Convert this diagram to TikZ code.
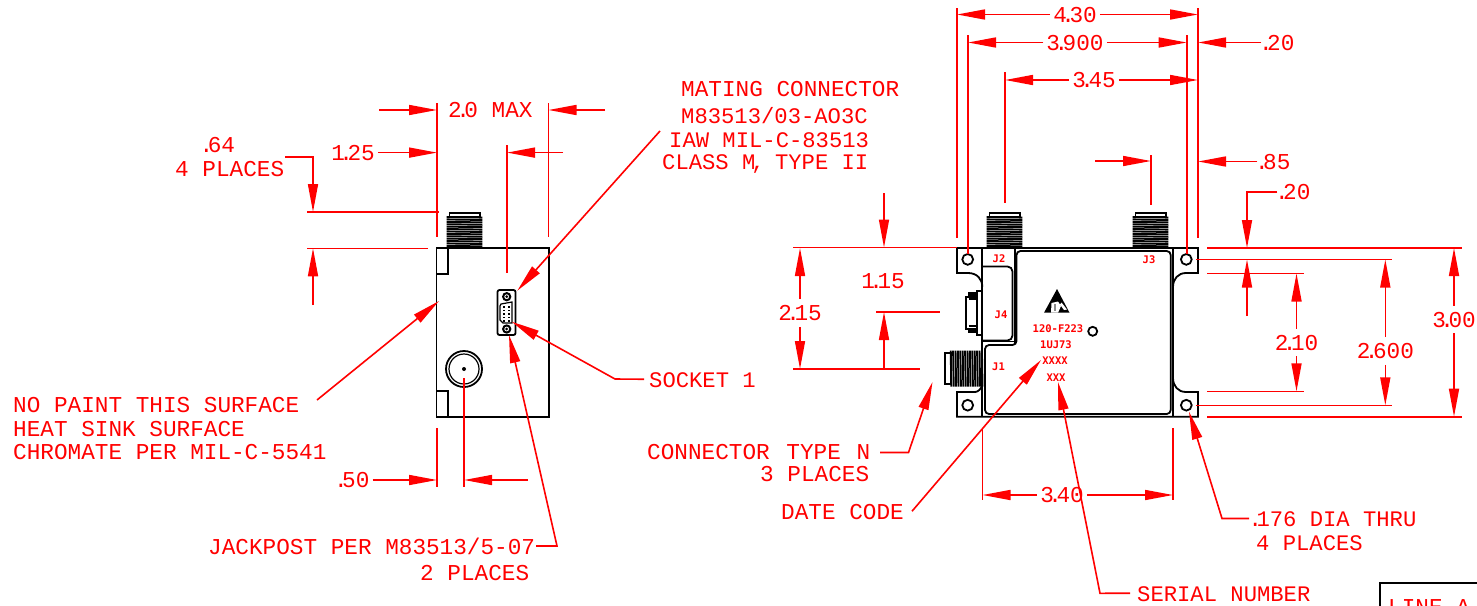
\documentclass[tikz,border=0pt]{standalone}
\usepackage{fontspec}
\setmainfont{Liberation Mono}
\newfontfamily\partfont{DejaVu Sans Mono}
\usetikzlibrary{arrows.meta}
\tikzstyle{body}=[draw=black,line width=1.8pt]
\tikzstyle{thread}=[draw=black,line width=1.9pt]
\tikzstyle{extline}=[draw=red,line width=1.6pt]
\tikzstyle{dimarrow}=[draw=red,line width=1.6pt,-{Triangle[length=28pt,width=10pt,fill=red]}]
\tikzstyle{lbl}=[text=red,inner sep=0pt,text height=15.5pt,text depth=0pt,font=\fontsize{22.7}{24}\selectfont]
\tikzstyle{lblnarrow}=[lbl,font=\fontsize{22.2}{24}\selectfont]
\tikzstyle{dimlbl}=[lbl,inner xsep=3pt,inner ysep=6pt]
\tikzstyle{partlbl}=[text=red,inner sep=0pt,font=\partfont\bfseries\fontsize{10.5}{12}\selectfont]
\newcommand{\dotk}{\kern-5.5pt.\kern-5.5pt}

\begin{document}
\begin{tikzpicture}[x=1pt,y=-1pt]
      \useasboundingbox (0,0) rectangle (1477,605);
      \clip (0,0) rectangle (1477,605);

      % threaded connectors on the top edges
      \foreach \cx in {446.7,986.7,1132.7}{
        \begin{scope}[shift={(\cx,217)}]
          \draw[body] (2.8,-4.3) rectangle (33.3,0);
          \foreach \ty in {0,2.4,...,31}{
            \draw[thread] (0,\ty) -- (35.6,\ty+0.6);
          }
        \end{scope}
      }
      \foreach \tx in {950.7,953.1,...,982}{
        \draw[thread] (\tx,350.7) -- (\tx+0.6,386.7);
      }
      \draw[body] (945.3,352.7) rectangle (950.7,384);

      % left view
      \draw[body] (436.5,248.3) rectangle (548.7,416.7);
      \draw[body] (436.5,248.3) rectangle (448,274);
      \draw[body] (436.5,391) rectangle (448,416.7);
      \node[circle,draw=black,line width=1.8pt,minimum size=36pt,inner sep=0pt] (jackout) at (464,369) {};
      \node[circle,draw=black,line width=1.2pt,minimum size=30pt,inner sep=0pt] (jackin) at (464,369) {};
      \fill[black] (464,369) circle (2);
      \draw[body,rounded corners=2pt] (497.5,290) rectangle (515.5,335);
      \foreach \sy in {296.7,329}{
        \draw[draw=black,line width=2pt] (506.7,\sy) circle (3.6);
        \fill[black] (506.7,\sy) circle (1.5);
      }
      \draw[body,line width=1.2pt] (501,304) -- (512,302) -- (512,323) -- (503,323) -- (500,320) -- (500,306) -- cycle;
      \foreach \sy in {306,309.5,...,321}{
        \fill[black] (503,\sy) rectangle (505,\sy+1.8);
        \fill[black] (507.5,\sy) rectangle (509.5,\sy+1.8);
      }

      % right view
      \draw[body] (957,248) -- (1198,248) -- (1198,273) -- (1186,273) .. controls (1178,273) and (1173,279) .. (1173,287)
        -- (1173,378) .. controls (1173,386) and (1178,392) .. (1186,392) -- (1198,392) -- (1198,416.7) -- (957,416.7)
        -- (957,392) -- (975,392) .. controls (978,392) and (981,389) .. (982.3,385);
      \draw[body] (982.3,287) .. controls (982.3,279) and (977,273) .. (968,273) -- (957,273) -- (957,248);
      \draw[body] (982.3,248) -- (982.3,416.7);
      \draw[body] (1173,248) -- (1173,416.7);
      \draw[body,rounded corners=4pt] (985,345) -- (1016.5,345) -- (1016.5,251) -- (1170.7,251) -- (1170.7,414) -- (985,414) -- cycle;
      \draw[draw=black,line width=2.4pt] (1015,249) -- (1015,344);
      \draw[body,rounded corners=5pt] (982.3,266.5) -- (1012.5,266.5) -- (1012.5,340.5) -- (982.3,340.5);
      \draw[body] (982.3,341.5) -- (1015,341.5);
      \foreach \hx in {967.7,1186.3}{
        \foreach \hy in {259.4,405.2}{
          \draw[body] (\hx,\hy) circle (5.4);
        }
      }
      \draw[body] (1092.7,331.3) circle (4.5);

      % side connector of J4
      \draw[body] (976.7,290.7) rectangle (982,335);
      \draw[body] (966,297) rectangle (976.7,329);
      \draw[body,fill=black] (968.5,293) rectangle (976.7,297);
      \draw[body] (968.5,299) -- (976.7,299);
      \draw[body,fill=black] (968.5,329) rectangle (976.7,332.5);
      \draw[body] (968.5,326) -- (976.7,326);

      % static warning mark
      \fill[black] (1057,289) -- (1069.5,312.7) -- (1044,312.7) -- cycle;
      \fill[white] (1051.5,303) -- (1058,301.5) -- (1061,306) -- (1058,312.7) -- (1051,312.7) -- cycle;
      \fill[black!45] (1053.5,304) rectangle (1056,311);
      \fill[white] (1061.5,302.5) -- (1067,309.5) -- (1064,310) -- (1060,304.5) -- cycle;

      % labels on the parts
      \node[partlbl] (nj2) at (999,259) {J2};
      \node[partlbl] (nj3) at (1149,260) {J3};
      \node[partlbl] (nj4) at (1001,315) {J4};
      \node[partlbl] (nj1) at (998.5,367) {J1};
      \node[partlbl] (npart) at (1058,329) {120-F223};
      \node[partlbl] (nlot) at (1056,344.5) {1UJ73};
      \node[partlbl] (ndate) at (1055,361) {XXXX};
      \node[partlbl] (nser) at (1056,377.5) {XXX};

      % extension lines
      \foreach \xa/\ya/\xb/\yb in {
          436.7/103/436.7/237, 548.5/103/548.5/237, 507/145/507/273,
          307/212/439/212, 307/248.3/428/248.3,
          436.7/428/436.7/487, 464/378/464/487,
          957/8/957/238, 1198/8/1198/238, 968/35/968/254, 1186.7/35/1186.7/254,
          1005/72/1005/203, 1151/155/1151/205,
          793/247.5/957/247.5, 793/369/920/369, 876/312/940/312,
          982.5/428/982.5/500, 1173/428/1173/500,
          1207/248/1462/248, 1196/259.5/1392/259.5, 1207/273.5/1304/273.5,
          1207/391.3/1304/391.3, 1196/405.3/1392/405.3, 1207/416.7/1462/416.7}{
        \draw[extline] (\xa,\ya) -- (\xb,\yb);
      }

      % arrows standing free of any text
      \foreach \xa/\ya/\xb/\yb in {
          379/110/437/110, 605/110/548.5/110, 563/152.6/507/152.6,
          313/305/313/248.3, 528/480/464/480,
          1095/161/1151/161, 884/193/884/247.5, 884/368/884/312,
          1247/316/1247/259.5}{
        \draw[dimarrow] (\xa,\ya) -- (\xb,\yb);
      }

      % left view texts
      \node[lbl,anchor=base west] (tmax) at (448,117) {2\dotk0 MAX};
      \node[dimlbl] (t125) at (353,152.6) {1\dotk25};
      \draw[dimarrow] (t125) -- (437,152.6);
      \node[lbl,anchor=base west] (t64) at (205,152) {\dotk64};
      \node[lbl,anchor=base west] (t64b) at (175,176) {4 PLACES};
      \coordinate (b64) at (285,157);
      \draw[dimarrow] (b64) -| (313,212);
      \node[dimlbl] (t50) at (354.5,480) {\dotk50};
      \draw[dimarrow] (t50) -- (437,480);

      \node[lbl,anchor=base west] (tmate) at (681,96) {MATING CONNECTOR};
      \node[lblnarrow,anchor=base west] (tmateb) at (681,123) {M83513/03-AO3C};
      \node[lblnarrow,anchor=base west] (tmatec) at (669,147) {IAW MIL-C-83513};
      \node[lblnarrow,anchor=base west] (tmated) at (662,169.5) {CLASS M\kern-4pt,\kern-3pt{} TYPE II};
      \coordinate (mtip) at (517.3,290.7);
      \draw[dimarrow] (660,131) -- (mtip);

      \node[lbl,anchor=base west] (tnop) at (13,412) {NO PAINT THIS SURFACE};
      \node[lbl,anchor=base west] (tnopb) at (13,436) {HEAT SINK SURFACE};
      \node[lbl,anchor=base west] (tnopc) at (13,459) {CHROMATE PER MIL-C-5541};
      \coordinate (ntip) at (439,301);
      \draw[dimarrow] (317,400) -- (ntip);

      \node[lblnarrow,anchor=base west] (tsock) at (649,387) {SOCKET 1};
      \coordinate (stip) at (511.7,321.7);
      \draw[dimarrow] (tsock.west) ++(-5,0) -- (615,379) -- (stip);

      \node[lbl,anchor=base west] (tjack) at (208,554.3) {JACKPOST PER M83513/5-07};
      \node[lbl,anchor=base west] (tjackb) at (420,580) {2 PLACES};
      \coordinate (jtip) at (509,335);
      \draw[dimarrow] (536,546) -- (557,546) -- (jtip);

      % right view texts
      \node[dimlbl] (t430) at (1075,14.5) {4\dotk30};
      \coordinate (a430) at (957,14.5);
      \coordinate (b430) at (1198,14.5);
      \draw[dimarrow] (t430) -- (a430);
      \draw[dimarrow] (t430) -- (b430);

      \node[dimlbl] (t390) at (1075,42.5) {3\dotk900};
      \coordinate (a390) at (968,42.5);
      \coordinate (b390) at (1186.7,42.5);
      \draw[dimarrow] (t390) -- (a390);
      \draw[dimarrow] (t390) -- (b390);

      \node[dimlbl] (t345) at (1094,80) {3\dotk45};
      \coordinate (a345) at (1005,80);
      \coordinate (b345) at (1198,80);
      \draw[dimarrow] (t345) -- (a345);
      \draw[dimarrow] (t345) -- (b345);

      \node[dimlbl] (t20) at (1279.5,42.5) {\dotk20};
      \draw[dimarrow] (t20) -- (1198,42.5);
      \node[dimlbl] (t85) at (1275.5,161.5) {\dotk85};
      \draw[dimarrow] (t85) -- (1198,161.5);
      \node[dimlbl] (t20b) at (1295.5,192) {\dotk20};
      \draw[dimarrow] (t20b) -| (1247,248);

      \node[dimlbl] (t215) at (800,313) {2\dotk15};
      \draw[dimarrow] (t215) -- (800,248);
      \draw[dimarrow] (t215) -- (800,369);
      \node[lbl] (t115) at (883,281) {1\dotk15};

      \node[dimlbl] (t340) at (1062,495) {3\dotk40};
      \draw[dimarrow] (t340) -- (982.5,495);
      \draw[dimarrow] (t340) -- (1173,495);

      \node[dimlbl] (t210) at (1296.5,342.5) {2\dotk10};
      \draw[dimarrow] (t210) -- (1296.5,273.5);
      \draw[dimarrow] (t210) -- (1296.5,391.3);
      \node[dimlbl] (t260) at (1385.3,351) {2\dotk600};
      \draw[dimarrow] (t260) -- (1385.3,259.5);
      \draw[dimarrow] (t260) -- (1385.3,405.3);
      \node[dimlbl] (t300) at (1454,319.5) {3\dotk00};
      \draw[dimarrow] (t300) -- (1454,248);
      \draw[dimarrow] (t300) -- (1454,416.7);

      \node[lbl,anchor=base west] (tconn) at (647,459) {CONNECTOR\kern3pt{} TYPE\kern2pt{} N};
      \node[lbl,anchor=base west] (tconnb) at (760,481) {3 PLACES};
      \coordinate (ctip) at (932.5,382);
      \draw[dimarrow] (880,452.5) -- (908.5,452.5) -- (ctip);

      \node[lbl,anchor=base west] (tdate) at (781,519) {DATE CODE};
      \coordinate (dtip) at (1041,360);
      \draw[dimarrow] (tdate.east) ++(8,0) -- (dtip);

      \node[lblnarrow,anchor=base west] (tser) at (1137,601) {SERIAL NUMBER};
      \coordinate (rtip) at (1058,382);
      \draw[dimarrow] (tser.west) ++(-7,0) -- (1100,593.3) -- (rtip);

      \node[lblnarrow,anchor=base west] (tdia) at (1254,526) {\dotk176 DIA THRU};
      \node[lblnarrow,anchor=base west] (tdiab) at (1256,550) {4 PLACES};
      \coordinate (htip) at (1189,411.7);
      \draw[dimarrow] (1249,518.5) -- (1222,518.5) -- (htip);

      % table in the corner
      \draw[body] (1380,583) rectangle (1490,625);
      \node[lbl,anchor=base west] (tline) at (1388,614) {LINE A};
\end{tikzpicture}
\end{document}
